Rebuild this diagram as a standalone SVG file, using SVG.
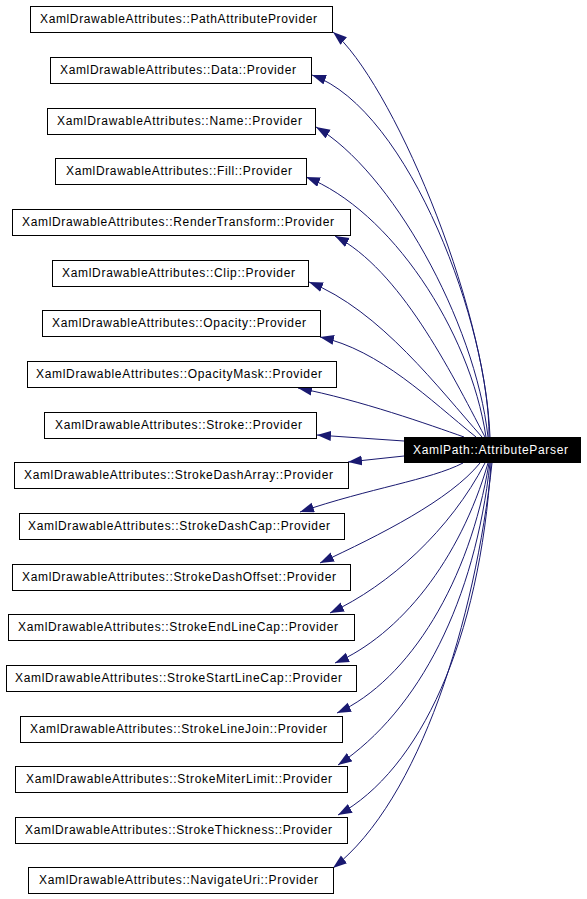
<svg xmlns="http://www.w3.org/2000/svg" width="587" height="899" viewBox="0 0 587 899">
<style>
.n rect{fill:#fff;stroke:#000;stroke-width:1}
.n text{font-family:"Liberation Sans",Arial,sans-serif;font-size:12px;fill:#000;text-anchor:middle}
.r rect{fill:#000;stroke:#000;stroke-width:1}
.r text{font-family:"Liberation Sans",Arial,sans-serif;font-size:12px;fill:#fff;text-anchor:middle}
.e path{fill:none;stroke:#191970;stroke-width:1;marker-end:url(#ah)}
</style>
<defs>
<marker id="ah" markerUnits="userSpaceOnUse" markerWidth="16" markerHeight="12" viewBox="0 0 16 12" refX="14" refY="5" orient="auto">
<path d="M0,0 L14,5 L0,10 z" fill="#191970"/>
</marker>
</defs>
<rect width="587" height="899" fill="#fff"/>
<g id="edges" class="e">
<path d="M490,437 C485,300 390,80 333,32"/>
<path d="M489,437 C490,330 410,110 312,75"/>
<path d="M488,437 C475,320 390,170 316,127"/>
<path d="M486,437 C470,330 390,210 306,177"/>
<path d="M485,437 C450,370 400,270 335,236"/>
<path d="M482,437 C440,390 380,310 309,282"/>
<path d="M476,437 C430,400 380,350 320,337"/>
<path d="M464,437 C430,425 360,400 298,388"/>
<path d="M404,441 L317,435"/>
<path d="M404,456 L348,462"/>
<path d="M463,463 C430,480 370,488 300,512"/>
<path d="M480,463 C450,500 380,535 320,563"/>
<path d="M485,463 C450,530 390,585 330,613"/>
<path d="M488,463 C460,560 400,635 335,663"/>
<path d="M489,463 C470,580 410,680 337,713"/>
<path d="M490,463 C475,600 420,710 338,765"/>
<path d="M491,463 C480,640 420,770 338,815"/>
<path d="M492,463 C475,620 420,800 333,868"/>
</g>
<g id="node-parser" class="r"><rect x="404.5" y="437.5" width="176" height="25"/><text x="490.5" y="454" textLength="155" lengthAdjust="spacing">XamlPath::AttributeParser</text></g>
<g id="node-0" class="n"><rect x="30.5" y="6.5" width="302" height="26"/><text x="178.5" y="23" textLength="277" lengthAdjust="spacing">XamlDrawableAttributes::PathAttributeProvider</text></g>
<g id="node-1" class="n"><rect x="50.5" y="57.5" width="261" height="26"/><text x="178" y="74" textLength="236" lengthAdjust="spacing">XamlDrawableAttributes::Data::Provider</text></g>
<g id="node-2" class="n"><rect x="47.5" y="108.5" width="268" height="26"/><text x="179.5" y="125" textLength="245" lengthAdjust="spacing">XamlDrawableAttributes::Name::Provider</text></g>
<g id="node-3" class="n"><rect x="55.5" y="158.5" width="251" height="26"/><text x="179" y="175" textLength="226" lengthAdjust="spacing">XamlDrawableAttributes::Fill::Provider</text></g>
<g id="node-4" class="n"><rect x="12.5" y="209.5" width="338" height="26"/><text x="178" y="226" textLength="312" lengthAdjust="spacing">XamlDrawableAttributes::RenderTransform::Provider</text></g>
<g id="node-5" class="n"><rect x="52.5" y="260.5" width="256" height="26"/><text x="178.5" y="277" textLength="233" lengthAdjust="spacing">XamlDrawableAttributes::Clip::Provider</text></g>
<g id="node-6" class="n"><rect x="42.5" y="310.5" width="278" height="26"/><text x="179" y="327" textLength="254" lengthAdjust="spacing">XamlDrawableAttributes::Opacity::Provider</text></g>
<g id="node-7" class="n"><rect x="27.5" y="361.5" width="309" height="26"/><text x="179" y="378" textLength="286" lengthAdjust="spacing">XamlDrawableAttributes::OpacityMask::Provider</text></g>
<g id="node-8" class="n"><rect x="44.5" y="412.5" width="272" height="26"/><text x="178.5" y="429" textLength="247" lengthAdjust="spacing">XamlDrawableAttributes::Stroke::Provider</text></g>
<g id="node-9" class="n"><rect x="14.5" y="462.5" width="334" height="26"/><text x="178.5" y="479" textLength="309" lengthAdjust="spacing">XamlDrawableAttributes::StrokeDashArray::Provider</text></g>
<g id="node-10" class="n"><rect x="19.5" y="513.5" width="325" height="26"/><text x="179" y="530" textLength="302" lengthAdjust="spacing">XamlDrawableAttributes::StrokeDashCap::Provider</text></g>
<g id="node-11" class="n"><rect x="12.5" y="564.5" width="338" height="26"/><text x="179" y="581" textLength="314" lengthAdjust="spacing">XamlDrawableAttributes::StrokeDashOffset::Provider</text></g>
<g id="node-12" class="n"><rect x="8.5" y="614.5" width="346" height="26"/><text x="178" y="631" textLength="320" lengthAdjust="spacing">XamlDrawableAttributes::StrokeEndLineCap::Provider</text></g>
<g id="node-13" class="n"><rect x="6.5" y="665.5" width="350" height="26"/><text x="178.5" y="682" textLength="327" lengthAdjust="spacing">XamlDrawableAttributes::StrokeStartLineCap::Provider</text></g>
<g id="node-14" class="n"><rect x="20.5" y="716.5" width="322" height="26"/><text x="178.5" y="733" textLength="297" lengthAdjust="spacing">XamlDrawableAttributes::StrokeLineJoin::Provider</text></g>
<g id="node-15" class="n"><rect x="15.5" y="766.5" width="332" height="26"/><text x="179" y="783" textLength="306" lengthAdjust="spacing">XamlDrawableAttributes::StrokeMiterLimit::Provider</text></g>
<g id="node-16" class="n"><rect x="15.5" y="817.5" width="332" height="26"/><text x="178.5" y="834" textLength="307" lengthAdjust="spacing">XamlDrawableAttributes::StrokeThickness::Provider</text></g>
<g id="node-17" class="n"><rect x="28.5" y="867.5" width="305" height="26"/><text x="178.5" y="884" textLength="279" lengthAdjust="spacing">XamlDrawableAttributes::NavigateUri::Provider</text></g>
</svg>
